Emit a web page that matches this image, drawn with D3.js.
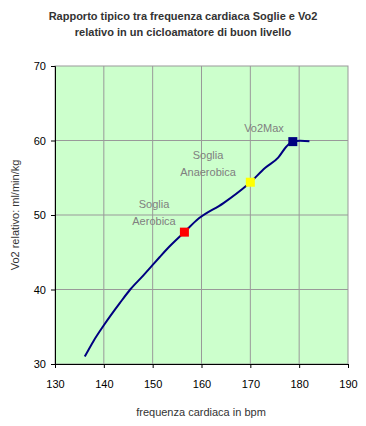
<!DOCTYPE html>
<html><head><meta charset="utf-8">
<script src="https://cdn.jsdelivr.net/npm/d3@7"></script>
<style>body{margin:0;background:#fff}</style>
</head><body>
<script>
const titleLines = ["Rapporto tipico tra frequenza cardiaca Soglie e Vo2", "relativo in un cicloamatore di buon livello"];
const xTicks = [130, 140, 150, 160, 170, 180, 190];
const yTicks = [30, 40, 50, 60, 70];
const curveHR = [136.1, 137.9, 140.0, 143.3, 145.4, 148.1, 150.0, 151.5, 152.9, 156.5, 159.0, 164.5, 169.3, 170.0, 173.0, 175.7, 177.4, 178.7, 180.2, 182.1];
const curveVO2 = [31.0, 33.1, 35.2, 38.2, 40.0, 41.9, 43.3, 44.4, 45.4, 47.7, 49.3, 51.6, 54.0, 54.4, 56.3, 57.7, 59.2, 59.85, 59.95, 59.9];
const markerNames = ["Aerobica", "Anaerobica", "Vo2Max"];
const markerHR = [156.5, 170.0, 178.7];
const markerVO2 = [47.7, 54.4, 59.85];
const markerColors = ["#ff0000", "#ffff00", "#000080"];
const labelLines = [["Soglia", "Aerobica"], ["Soglia", "Anaerobica"], ["Vo2Max"]];

const W = 366, H = 426;
const m = {l: 55, r: 18, t: 66, b: 62};
const svg = d3.select("body").append("svg").attr("width", W).attr("height", H);
const x = d3.scaleLinear().domain([130, 190]).range([m.l, W - m.r]);
const y = d3.scaleLinear().domain([30, 70]).range([H - m.b, m.t]);
const font = "Liberation Sans, Arial, sans-serif";

svg.append("rect").attr("x", x(130)).attr("y", y(70)).attr("width", x(190) - x(130)).attr("height", y(30) - y(70))
  .attr("fill", "#ccffcc").attr("stroke", "#999999");

// grid
svg.append("g").selectAll("line").data(xTicks.slice(1, -1)).join("line")
  .attr("x1", d => x(d)).attr("x2", d => x(d)).attr("y1", y(30)).attr("y2", y(70))
  .attr("stroke", "#999999").attr("stroke-width", 1);
svg.append("g").selectAll("line").data(yTicks.slice(1, -1)).join("line")
  .attr("x1", x(130)).attr("x2", x(190)).attr("y1", d => y(d)).attr("y2", d => y(d))
  .attr("stroke", "#999999").attr("stroke-width", 1);

// axes
const xa = svg.append("g").attr("transform", `translate(0,${y(30)})`)
  .call(d3.axisBottom(x).tickValues(xTicks).tickSize(4).tickPadding(12).tickFormat(d3.format("d")));
const ya = svg.append("g").attr("transform", `translate(${x(130)},0)`)
  .call(d3.axisLeft(y).tickValues(yTicks).tickSize(4).tickPadding(5).tickFormat(d3.format("d")));
[xa, ya].forEach(a => {
  a.select(".domain").attr("stroke", "#000");
  a.selectAll(".tick line").attr("stroke", "#000");
  a.selectAll("text").attr("font-family", font).attr("font-size", 11).attr("fill", "#000");
});

// curve
const pts = curveHR.map((d, i) => [d, curveVO2[i]]);
svg.append("path").datum(pts)
  .attr("d", d3.line().x(d => x(d[0])).y(d => y(d[1])).curve(d3.curveMonotoneX))
  .attr("fill", "none").attr("stroke", "#000080").attr("stroke-width", 2).attr("stroke-linejoin", "round");

// markers
const ms = 9;
svg.append("g").selectAll("rect").data(markerHR).join("rect")
  .attr("x", d => x(d) - ms / 2).attr("y", (d, i) => y(markerVO2[i]) - ms / 2)
  .attr("width", ms).attr("height", ms).attr("fill", (d, i) => markerColors[i]);

// labels
const labelPos = [[154, 204], [208, 155], [264, 128]];
labelLines.forEach((lines, i) => {
  lines.forEach((t, j) => {
    svg.append("text").attr("x", labelPos[i][0]).attr("y", labelPos[i][1] + j * 17 + 4)
      .attr("text-anchor", "middle").attr("font-family", font).attr("font-size", 11)
      .attr("fill", "#808080").text(t);
  });
});

// title
titleLines.forEach((t, i) => {
  svg.append("text").attr("x", 183).attr("y", 20 + i * 16).attr("text-anchor", "middle")
    .attr("font-family", font).attr("font-size", 11).attr("font-weight", "bold").attr("fill", "#333333").text(t);
});

// axis titles
svg.append("text").attr("x", 201).attr("y", 416).attr("text-anchor", "middle")
  .attr("font-family", font).attr("font-size", 11).attr("fill", "#333333").text("frequenza cardiaca in bpm");
svg.append("text").attr("transform", "translate(19,215) rotate(-90)").attr("text-anchor", "middle")
  .attr("font-family", font).attr("font-size", 11).attr("fill", "#333333").text("Vo2 relativo: ml/min/kg");
</script>
</body></html>
